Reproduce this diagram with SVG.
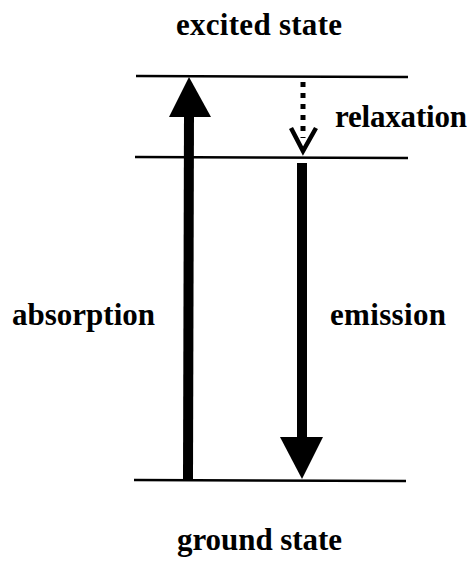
<svg xmlns="http://www.w3.org/2000/svg" width="470" height="562" viewBox="0 0 470 562">
<style>
text{font-family:"Liberation Serif","Times New Roman",serif;font-weight:bold;font-size:31px;fill:#000}
.lvl{stroke:#000;stroke-width:2.5}
.shaft{stroke:#000;stroke-width:10}
</style>
<rect width="470" height="562" fill="#fff"/>
<g id="excited-state">
<line class="lvl" x1="136" y1="76" x2="408" y2="77"/>
<text x="176" y="35" textLength="166">excited state</text>
</g>
<g id="intermediate-state">
<line class="lvl" x1="135" y1="157" x2="408" y2="158"/>
</g>
<g id="ground-state">
<line class="lvl" x1="134" y1="480" x2="406" y2="481"/>
<text x="177" y="550" textLength="165">ground state</text>
</g>
<g id="connectors">
<g id="absorption">
<line class="shaft" x1="188" y1="480" x2="189" y2="112"/>
<polygon points="189,77 211,117 169,117" fill="#000"/>
<text x="12" y="325" textLength="143">absorption</text>
</g>
<g id="relaxation">
<line x1="303" y1="82" x2="303" y2="138" stroke="#000" stroke-width="5" stroke-dasharray="5,6"/>
<polyline points="291,128 303,151 316,128" fill="none" stroke="#000" stroke-width="4.5"/>
<text x="335" y="127" textLength="132">relaxation</text>
</g>
<g id="emission">
<line class="shaft" x1="302" y1="163" x2="302" y2="440"/>
<polygon points="280,437 323,437 302,479" fill="#000"/>
<text x="330" y="325" textLength="116">emission</text>
</g>
</g>
</svg>
